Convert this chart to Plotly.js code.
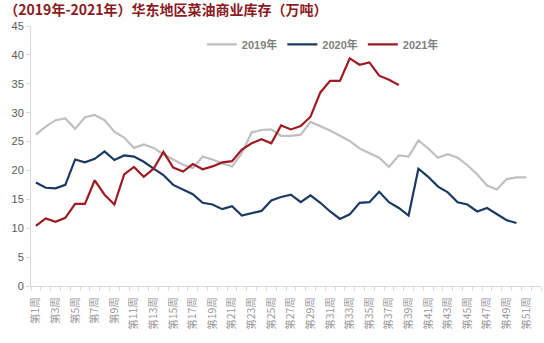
<!DOCTYPE html>
<html>
<head>
<meta charset="utf-8">
<script src="https://cdn.plot.ly/plotly-3.0.1.min.js"></script>
<style>
html,body{margin:0;padding:0;background:#fff;}
#chart{width:544px;height:343px;}
</style>
</head>
<body>
<div id="chart"></div>
<script>
// Week categories
const weeks = Array.from({length: 52}, (_, i) => '第' + (i + 1) + '周');
const tickWeeks = weeks.filter((_, i) => i % 2 === 0);

// 华东地区菜油商业库存（万吨）
const y2019 = [26.2, 27.6, 28.7, 29.0, 27.2, 29.2, 29.6, 28.7, 26.7, 25.7,
               23.9, 24.5, 23.9, 22.8, 21.9, 21.0, 20.4, 22.4, 21.9, 21.2,
               20.7, 23.0, 26.6, 27.0, 27.1, 26.0, 26.0, 26.2, 28.4, 27.7,
               26.9, 26.0, 25.1, 23.8, 23.0, 22.2, 20.6, 22.6, 22.4, 25.2,
               23.8, 22.2, 22.8, 22.2, 20.9, 19.3, 17.4, 16.7, 18.5, 18.8,
               18.8];
const y2020 = [17.9, 17.0, 16.9, 17.5, 21.9, 21.4, 22.0, 23.3, 21.8, 22.6,
               22.4, 21.5, 20.3, 19.2, 17.5, 16.7, 15.9, 14.4, 14.1, 13.3,
               13.8, 12.2, 12.6, 13.0, 14.8, 15.4, 15.8, 14.5, 15.7, 14.4,
               12.9, 11.6, 12.4, 14.4, 14.5, 16.3, 14.5, 13.5, 12.2, 20.3,
               18.9, 17.2, 16.2, 14.5, 14.1, 12.9, 13.5, 12.5, 11.4, 10.9];
const y2021 = [10.4, 11.7, 11.1, 11.8, 14.2, 14.2, 18.3, 15.8, 14.1, 19.3,
               20.6, 18.9, 20.3, 23.2, 20.5, 19.8, 21.1, 20.2, 20.7, 21.4,
               21.6, 23.6, 24.7, 25.4, 24.7, 27.8, 27.1, 27.7, 29.3, 33.5,
               35.5, 35.5, 39.4, 38.3, 38.7, 36.4, 35.7, 34.8];
const seriesNames = ['2019年', '2020年', '2021年'];
const seriesColors = ['#C0C0C0', '#1B3A63', '#9E1B22'];

const weekIndex = weeks.map((_, i) => i + 1);
const allY = [y2019, y2020, y2021];

const traces = allY.map((ys, k) => ({
  type: 'scatter',
  mode: 'lines',
  name: seriesNames[k],
  x: weekIndex.slice(0, ys.length),
  y: ys,
  text: weeks.slice(0, ys.length),
  line: {color: seriesColors[k], width: 2.2},
  hoverinfo: 'text+y+name'
}));

const layout = {
  width: 544,
  height: 343,
  margin: {l: 31, r: 3, t: 26, b: 57},
  paper_bgcolor: '#ffffff',
  plot_bgcolor: '#ffffff',
  showlegend: true,
  title: {
    text: '（2019年-2021年）华东地区菜油商业库存（万吨）',
    x: 0.008, xanchor: 'left', y: 0.985, yanchor: 'top',
    font: {family: '"Noto Sans CJK SC", "Noto Sans", sans-serif', size: 14, color: '#8B1A1E', weight: 'bold'}
  },
  legend: {
    orientation: 'h',
    x: 0.335, xanchor: 'left', y: 0.985, yanchor: 'top',
    font: {family: '"Liberation Sans", "Noto Sans CJK SC", sans-serif', size: 11, color: '#7F7F7F', weight: 'bold'},
    itemwidth: 30,
    tracegroupgap: 0,
    bgcolor: 'rgba(0,0,0,0)'
  },
  xaxis: {
    type: 'linear',
    range: [0.5, 52.5],
    tickmode: 'array',
    tickvals: weekIndex.filter((_, i) => i % 2 === 0),
    ticktext: tickWeeks,
    tickangle: -90,
    ticks: '',
    ticklabelstandoff: 6,
    tickfont: {family: '"Noto Sans CJK SC", sans-serif', size: 10.5, color: '#9A9A9A'},
    showline: true, linecolor: '#D9D9D9', linewidth: 1,
    showgrid: false, zeroline: false,
    minor: {tick0: 0.5, dtick: 1, ticks: 'outside', ticklen: 4, tickcolor: '#D9D9D9', showgrid: false},
    fixedrange: true
  },
  yaxis: {
    range: [0, 45],
    dtick: 5,
    ticks: 'outside', ticklen: 4, tickcolor: '#D9D9D9',
    tickfont: {family: '"Liberation Sans", Arial, sans-serif', size: 11, color: '#595959'},
    showline: true, linecolor: '#D9D9D9', linewidth: 1,
    showgrid: false, zeroline: false,
    fixedrange: true
  }
};

Plotly.newPlot('chart', traces, layout, {displayModeBar: false, staticPlot: true});
</script>
</body>
</html>
